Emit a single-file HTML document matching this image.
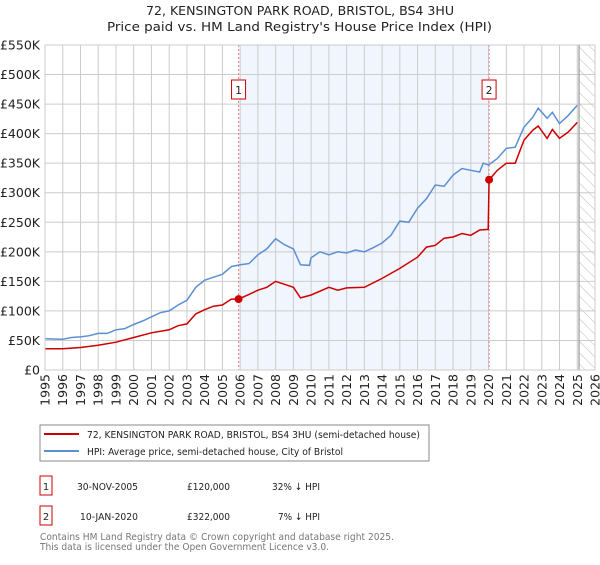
<!DOCTYPE html>
<html><head><meta charset="utf-8"><style>
body{margin:0;background:#fff;font-family:"Liberation Sans","DejaVu Sans",sans-serif}
svg text{font-family:"DejaVu Sans","Liberation Sans",sans-serif}
</style></head><body>
<svg id="chart" width="600" height="560" xmlns="http://www.w3.org/2000/svg">
<text x="146" y="15" font-size="12" fill="#222" textLength="308" lengthAdjust="spacingAndGlyphs">72, KENSINGTON PARK ROAD, BRISTOL, BS4 3HU</text>
<text x="107" y="31" font-size="12" fill="#222" textLength="385" lengthAdjust="spacingAndGlyphs">Price paid vs. HM Land Registry's House Price Index (HPI)</text>
<g id="plot"></g>
<rect x="40" y="425" width="389" height="36" fill="#fff" stroke="#888"/>
<line x1="44" y1="434" x2="79" y2="434" stroke="#cc0000" stroke-width="2"/>
<text x="87" y="438" font-size="10" fill="#222" textLength="333" lengthAdjust="spacingAndGlyphs">72, KENSINGTON PARK ROAD, BRISTOL, BS4 3HU (semi-detached house)</text>
<line x1="44" y1="451" x2="79" y2="451" stroke="#5b8fd4" stroke-width="2"/>
<text x="87" y="455" font-size="10" fill="#222" textLength="256" lengthAdjust="spacingAndGlyphs">HPI: Average price, semi-detached house, City of Bristol</text>
<rect x="40" y="476" width="12" height="19" fill="#fff" stroke="#cc0000"/>
<text x="46" y="490" text-anchor="middle" font-size="10" fill="#222">1</text>
<text x="77" y="490" font-size="10" fill="#222" textLength="61" lengthAdjust="spacingAndGlyphs">30-NOV-2005</text>
<text x="187" y="490" font-size="10" fill="#222" textLength="43" lengthAdjust="spacingAndGlyphs">£120,000</text>
<text x="272" y="490" font-size="10" fill="#222" textLength="48" lengthAdjust="spacingAndGlyphs">32% ↓ HPI</text>
<rect x="40" y="506" width="12" height="19" fill="#fff" stroke="#cc0000"/>
<text x="46" y="520" text-anchor="middle" font-size="10" fill="#222">2</text>
<text x="80" y="520" font-size="10" fill="#222" textLength="58" lengthAdjust="spacingAndGlyphs">10-JAN-2020</text>
<text x="187" y="520" font-size="10" fill="#222" textLength="43" lengthAdjust="spacingAndGlyphs">£322,000</text>
<text x="278" y="520" font-size="10" fill="#222" textLength="42" lengthAdjust="spacingAndGlyphs">7% ↓ HPI</text>
<text x="40" y="540" font-size="10" fill="#777" textLength="354" lengthAdjust="spacingAndGlyphs">Contains HM Land Registry data © Crown copyright and database right 2025.</text>
<text x="40" y="550" font-size="10" fill="#777" textLength="289" lengthAdjust="spacingAndGlyphs">This data is licensed under the Open Government Licence v3.0.</text>
</svg>
<script>
const hpiYears=[1995,1996,1996.5,1997,1997.5,1998,1998.5,1999,1999.5,2000,2000.5,2001,2001.5,2002,2002.5,2003,2003.5,2004,2004.5,2005,2005.5,2006,2006.5,2007,2007.5,2008,2008.5,2009,2009.4,2009.9,2010,2010.5,2011,2011.5,2012,2012.5,2013,2013.5,2014,2014.5,2015,2015.5,2016,2016.5,2017,2017.5,2018,2018.5,2019,2019.5,2019.7,2020,2020.5,2021,2021.5,2022,2022.5,2022.8,2023.3,2023.6,2024,2024.5,2025];
const hpiValues=[53,52,55,56,58,62,62,68,70,77,83,90,97,100,110,118,140,152,157,162,175,178,180,195,205,222,212,205,178,177,190,200,195,200,198,203,200,207,215,228,252,250,274,290,313,311,330,341,338,335,350,347,358,375,377,411,428,443,426,436,417,431,448];
const propYears=[1995,1996,1997,1998,1999,2000,2001,2002,2002.5,2003,2003.5,2004,2004.5,2005,2005.5,2005.91,2006.5,2007,2007.5,2008,2008.5,2009,2009.4,2010,2011,2011.5,2012,2013,2014,2015,2016,2016.5,2017,2017.5,2018,2018.5,2019,2019.5,2019.98,2020.03,2020.5,2021,2021.5,2022,2022.5,2022.8,2023.3,2023.6,2024,2024.5,2025];
const propValues=[36,36,38,42,47,55,63,68,75,78,95,102,108,110,120,120,128,135,140,150,145,140,122,127,140,135,139,140,155,172,191,208,211,223,225,231,228,237,238,322,338,350,350,389,406,413,392,407,392,403,419];
const saleYears=[2005.91,2020.03];
const saleValues=[120,322];
const saleLabels=["1","2"];
const yTicks=[0,50,100,150,200,250,300,350,400,450,500,550];
const yTickLabels=["£0","£50K","£100K","£150K","£200K","£250K","£300K","£350K","£400K","£450K","£500K","£550K"];
const xTicks=[1995,1996,1997,1998,1999,2000,2001,2002,2003,2004,2005,2006,2007,2008,2009,2010,2011,2012,2013,2014,2015,2016,2017,2018,2019,2020,2021,2022,2023,2024,2025,2026];

const L=45,R=595,T=45,B=370,X0=1995,X1=2026,YMAX=550;
const sx=y=>L+(y-X0)/(X1-X0)*(R-L);
const sy=v=>B-v/YMAX*(B-T);
const NS="http://www.w3.org/2000/svg";
const g=document.getElementById('plot');
function mk(tag,attrs){const e=document.createElementNS(NS,tag);for(const k in attrs)e.setAttribute(k,attrs[k]);g.appendChild(e);return e;}

let sh=mk('rect',{x:sx(saleYears[0]),y:T,width:sx(saleYears[1])-sx(saleYears[0]),height:B-T,fill:'#f1f5fd'});


const defs=document.createElementNS(NS,'defs');
defs.innerHTML='<pattern id="hatch" width="8" height="8" patternUnits="userSpaceOnUse" patternTransform="rotate(-45)"><line x1="0" y1="0" x2="0" y2="8" stroke="#bbb" stroke-width="1"/></pattern>';
g.appendChild(defs);
let ht=mk('rect',{x:sx(2025.1),y:T,width:R-sx(2025.1),height:B-T,fill:'url(#hatch)'});


yTicks.forEach((t,i)=>{
  let ln=mk('line',{x1:L,x2:R,y1:sy(t),y2:sy(t),stroke:'#ccc','stroke-width':1});
  
  
  let tx=mk('text',{x:L-5,y:sy(t)+4.5,'text-anchor':'end','font-size':'12.5',fill:'#222'});
  tx.textContent=yTickLabels[i];
  
  
});
xTicks.forEach(t=>{
  let ln=mk('line',{x1:sx(t),x2:sx(t),y1:T,y2:B,stroke:'#ccc','stroke-width':1});
  
  
  let tx=mk('text',{x:0,y:0,'text-anchor':'end','font-size':'12.5',fill:'#222',transform:`translate(${sx(t)+4.5},${B+4}) rotate(-90)`});
  tx.textContent=t;
  
  
});
let vl=mk('line',{x1:sx(2025.1),x2:sx(2025.1),y1:T,y2:B,stroke:'#999','stroke-width':1.2});


saleYears.forEach((y,i)=>{
  let ln=mk('line',{x1:sx(y),x2:sx(y),y1:T,y2:B,stroke:'#ec8080','stroke-width':1,'stroke-dasharray':'2,2'});
  
  
  let bx=mk('rect',{x:sx(y)-7,y:80,width:14,height:19,fill:'#fff',stroke:'#cc0000'});
  
  
  let tx=mk('text',{x:sx(y),y:94,'text-anchor':'middle','font-size':'10.5',fill:'#222'});
  tx.textContent=saleLabels[i];
  
  
});
function path(xs,vs){return xs.map((x,i)=>(i?'L':'M')+sx(x).toFixed(1)+','+sy(vs[i]).toFixed(1)).join('');}
let hp=mk('path',{d:path(hpiYears,hpiValues),fill:'none',stroke:'#5b8fd4','stroke-width':1.5});


let pp=mk('path',{d:path(propYears,propValues),fill:'none',stroke:'#cc0000','stroke-width':1.5});


saleYears.forEach((y,i)=>{
  let c=mk('circle',{cx:sx(y),cy:sy(saleValues[i]),r:4,fill:'#cc0000'});
  
  
});
let fr=mk('rect',{x:L,y:T,width:R-L,height:B-T,fill:'none',stroke:'#ccc'});


</script>
</body></html>
